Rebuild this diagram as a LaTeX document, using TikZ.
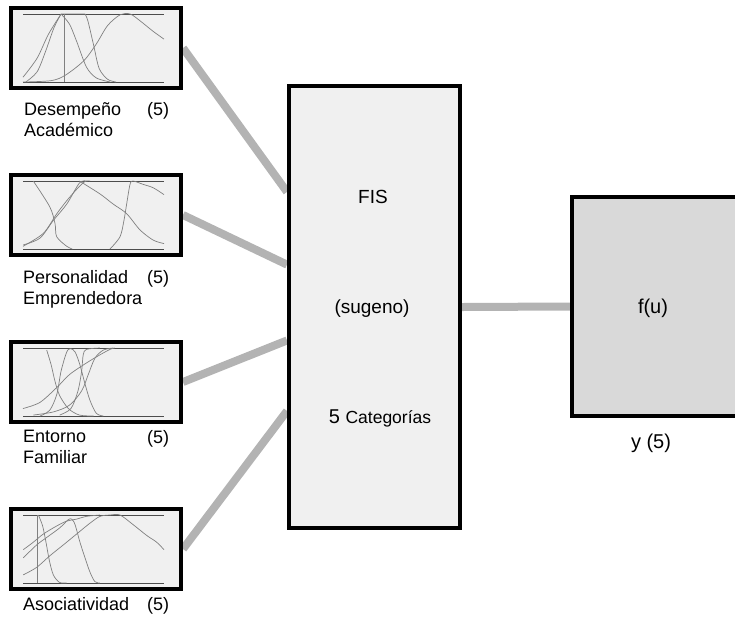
\documentclass[tikz,border=0pt]{standalone}
\usepackage{fontspec}
\setmainfont{Liberation Sans}
\usetikzlibrary{backgrounds}
\definecolor{boxfill}{RGB}{240,240,240}
\definecolor{outfill}{RGB}{217,217,217}
\definecolor{wire}{RGB}{179,179,179}
\definecolor{mfgray}{RGB}{128,128,128}
\tikzset{
  inbox/.style={draw=black, line width=4pt, fill=boxfill, minimum width=170pt, minimum height=80pt, inner sep=0pt},
  fisbox/.style={draw=black, line width=4pt, fill=boxfill, minimum width=171pt, minimum height=442pt, inner sep=0pt},
  outbox/.style={draw=black, line width=4pt, fill=outfill, minimum width=180pt, minimum height=219pt, inner sep=0pt},
  wirelink/.style={draw=wire, line width=8pt},
  mf/.style={mfgray, line width=0.7pt},
  mfaxis/.style={black!70, line width=0.7pt},
  lbl/.style={font=\fontsize{18}{21}\selectfont, inner sep=0pt, align=left},
  fistxt/.style={font=\fontsize{19}{22}\selectfont, inner sep=0pt},
  outtxt/.style={font=\fontsize{20}{23}\selectfont, inner sep=0pt},
}

\begin{document}
\begin{tikzpicture}[x=1pt,y=-1pt]
\clip (0,0) rectangle (735,619);
% input blocks
\node[inbox] (de) at (96,48) {};
\node[inbox] (pe) at (96,215) {};
\node[inbox] (ef) at (96,382) {};
\node[inbox] (as) at (96,549) {};
% input labels
\node[lbl, anchor=north west] (delbl) at (24,102) {Desempeño\\Académico};
\node[lbl, anchor=base west] (den) at (147,115) {(5)};
\node[lbl, anchor=north west] (pelbl) at (23,270) {Personalidad\\Emprendedora};
\node[lbl, anchor=base west] (pen) at (147,283) {(5)};
\node[lbl, anchor=north west] (eflbl) at (23,430) {Entorno\\Familiar};
\node[lbl, anchor=base west] (efn) at (147,443) {(5)};
\node[lbl, anchor=north west] (aslbl) at (23,597) {Asociatividad};
\node[lbl, anchor=base west] (asn) at (147,610) {(5)};
% membership functions, Desempeño
\begin{scope}[shift={(de.center)}, shift={(-73,34)}, xscale=141, yscale=-68]
\draw[mfaxis] (0,0) -- (1,0) (0,1) -- (1,1);
\draw[mf] plot[smooth, tension=0.5] coordinates {(0,0.07) (0.1,0.35) (0.18,0.7) (0.27,1)};
\draw[mf] plot[smooth, tension=0.5] coordinates {(0.02,0) (0.1,0.15) (0.16,0.45) (0.22,0.8) (0.27,1)};
\draw[mf] (0.29,1) -- (0.29,0);
\draw[mf] plot[smooth, tension=0.5] coordinates {(0.27,1) (0.33,0.85) (0.38,0.6) (0.45,0.22) (0.52,0.06) (0.62,0)};
\draw[mf] (0.27,1) -- (0.44,1) plot[smooth, tension=0.5] coordinates {(0.44,1) (0.46,0.9) (0.5,0.55) (0.54,0.2) (0.6,0.04) (0.66,0)};
\draw[mf] plot[smooth, tension=0.5] coordinates {(0,0) (0.2,0.02) (0.3,0.1) (0.43,0.31) (0.52,0.56) (0.6,0.83) (0.69,0.99) (0.76,1) (0.83,0.9) (0.92,0.75) (1,0.63)};
\end{scope}
% membership functions, Personalidad
\begin{scope}[shift={(pe.center)}, shift={(-73,34)}, xscale=141, yscale=-68]
\draw[mfaxis] (0,0) -- (1,0) (0,1) -- (1,1);
\draw[mf] plot[smooth, tension=0.5] coordinates {(0.073,1) (0.19,0.62) (0.227,0.375) (0.239,0.18) (0.31,0.04) (0.35,0)};
\draw[mf] plot[smooth, tension=0.5] coordinates {(0.002,0.06) (0.12,0.16) (0.215,0.42) (0.31,0.66) (0.40,0.97) (0.45,1)};
\draw[mf] plot[smooth, tension=0.5] coordinates {(0,0.04) (0.144,0.23) (0.24,0.52) (0.33,0.76) (0.43,0.98) (0.475,1)};
\draw[mf] plot[smooth, tension=0.5] coordinates {(0.40,1) (0.546,0.81) (0.64,0.66) (0.735,0.52) (0.83,0.28) (0.924,0.13) (1,0.08)};
\draw[mf] plot[smooth, tension=0.5] coordinates {(0.617,0) (0.688,0.18) (0.716,0.42) (0.735,0.66) (0.759,0.95) (0.78,1) (0.853,0.95) (0.924,0.9) (1,0.8)};
\end{scope}
% membership functions, Entorno
\begin{scope}[shift={(ef.center)}, shift={(-73,34)}, xscale=141, yscale=-68]
\draw[mfaxis] (0,0) -- (1,0) (0,1) -- (1,1);
\draw[mf] plot[smooth, tension=0.5] coordinates {(0.168,0.97) (0.2,0.75) (0.227,0.51) (0.26,0.3) (0.322,0.11) (0.4,0.014) (0.5,0)};
\draw[mf] plot[smooth, tension=0.5] coordinates {(0.12,0) (0.19,0.086) (0.24,0.32) (0.27,0.66) (0.31,0.94) (0.338,0.99) (0.37,0.94) (0.404,0.75) (0.44,0.47) (0.475,0.23) (0.52,0.04) (0.57,0)};
\draw[mf] plot[smooth, tension=0.5] coordinates {(0,0.11) (0.12,0.2) (0.24,0.42) (0.33,0.61) (0.45,0.78) (0.546,0.9) (0.617,0.98) (0.65,1)};
\draw[mf] plot[smooth, tension=0.5] coordinates {(0.073,0.014) (0.215,0.06) (0.33,0.16) (0.416,0.37) (0.463,0.61) (0.51,0.85) (0.57,0.97) (0.64,1)};
\draw[mf] plot[smooth, tension=0.5] coordinates {(0.26,0.014) (0.34,0.11) (0.39,0.37) (0.416,0.66) (0.427,0.9) (0.45,0.98) (0.546,1)};
\end{scope}
% membership functions, Asociatividad
\begin{scope}[shift={(as.center)}, shift={(-73,34)}, xscale=141, yscale=-68]
\draw[mfaxis] (0,0) -- (1,0) (0,1) -- (1,1);
\draw[mf] (0.10,1) -- (0.10,0);
\draw[mf] plot[smooth, tension=0.5] coordinates {(0.109,1) (0.139,0.84) (0.163,0.6) (0.187,0.33) (0.215,0.12) (0.258,0.01) (0.31,0)};
\draw[mf] plot[smooth, tension=0.5] coordinates {(0.002,0.49) (0.073,0.6) (0.144,0.72) (0.24,0.84) (0.31,0.91) (0.38,0.94) (0.45,0.98) (0.546,1)};
\draw[mf] plot[smooth, tension=0.5] coordinates {(0.002,0.37) (0.097,0.56) (0.168,0.67) (0.26,0.81) (0.32,0.93) (0.345,0.94) (0.369,0.86) (0.404,0.6) (0.44,0.37) (0.475,0.16) (0.51,0.02) (0.546,0)};
\draw[mf] plot[smooth, tension=0.5] coordinates {(0.002,0.12) (0.097,0.23) (0.19,0.4) (0.286,0.56) (0.38,0.72) (0.475,0.88) (0.546,0.98) (0.617,1) (0.688,1) (0.78,0.86) (0.877,0.7) (0.948,0.6) (1,0.49)};
\end{scope}
% FIS block
\node[fisbox] (fis) at (374.5,307) {};
\node[fistxt, anchor=base] (fisname) at (373,203) {FIS};
\node[fistxt, anchor=base] (fistype) at (372,313) {(sugeno)};
\node[inner sep=0pt, anchor=base] (fiscat) at (380,423) {{\fontsize{20}{23}\selectfont 5 }{\fontsize{17.5}{20}\selectfont Categorías}};
% output block
\node[outbox] (fu) at (662,306.5) {};
\node[outtxt, anchor=base] (futxt) at (653,313) {f(u)};
\node[outtxt, anchor=base] (ylbl) at (651,448) {y (5)};
% ports on the FIS
\path (fis.north west) -- (fis.south west)
  coordinate[pos=0.242] (fin1) coordinate[pos=0.405] (fin2)
  coordinate[pos=0.575] (fin3) coordinate[pos=0.733] (fin4);
% connections
\begin{scope}[on background layer]
\draw[wirelink] (de.east) -- (fin1);
\draw[wirelink] (pe.east) -- (fin2);
\draw[wirelink] (ef.east) -- (fin3);
\draw[wirelink] (as.east) -- (fin4);
\draw[wirelink] (fis.east) -- (fu.west);
\end{scope}
\end{tikzpicture}
\end{document}
